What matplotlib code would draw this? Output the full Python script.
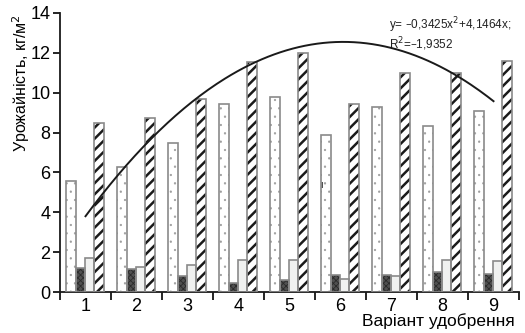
import numpy as np
import matplotlib
matplotlib.use('Agg')
import matplotlib.pyplot as plt

plt.rcParams['font.family'] = ['Liberation Sans', 'DejaVu Sans']

variants = [1, 2, 3, 4, 5, 6, 7, 8, 9]
dotted_vals = [5.55, 6.25, 7.5, 9.45, 9.8, 7.9, 9.3, 8.35, 9.1]
dark_vals = [1.2, 1.15, 0.8, 0.45, 0.58, 0.88, 0.85, 1.0, 0.9]
light_vals = [1.7, 1.25, 1.35, 1.6, 1.62, 0.67, 0.8, 1.6, 1.55]
striped_vals = [8.5, 8.75, 9.7, 11.55, 12.0, 9.45, 11.0, 11.0, 11.6]
trend_a, trend_b = -0.3425, 4.1464

fig = plt.figure(figsize=(5.25, 3.33), dpi=100)
ax = fig.add_axes([0.1143, 0.123, 0.8743, 0.838])

x0 = np.array(variants) - 1
w = 0.185
off = 0.12

def bars(vals, k, face, hatch, hcol, lw=0.5):
    pos = x0 + off + k * w
    # hatch layer (hatch colour comes from edgecolor)
    plt.rcParams['hatch.linewidth'] = lw
    ax.bar(pos, vals, width=w, align='edge', color=face, hatch=hatch,
           edgecolor=hcol, linewidth=0, zorder=2)
    # outline
    ax.bar(pos, vals, width=w, align='edge', fill=False,
           edgecolor='#8a8a8a', linewidth=1.2, zorder=3)

bars(dotted_vals, 0, 'white', '..', '#9a9a9a', 0.4)
bars(dark_vals, 1, '#505050', 'xxxxxx', '#2a2a2a', 0.6)
bars(light_vals, 2, '#f0f1f0', None, '#f0f1f0', 0.5)
bars(striped_vals, 3, 'white', '///', '#1a1a1a', 1.8)

xs = np.linspace(1, 9, 200)
ax.plot(xs - 0.5, trend_a * xs ** 2 + trend_b * xs, color='#1a1a1a',
        linewidth=1.4, zorder=4)

ax.text(6.45, 13.2, 'y= \u20130,3425x$^2$+4,1464x;', fontsize=8.5, color='#222')
ax.text(6.45, 12.2, 'R$^2$=\u20131,9352', fontsize=8.5, color='#222')
ax.text(5.1, 5.2, 'ı', fontsize=7, color='#222')

ax.set_xlim(0, 9)
ax.set_ylim(0, 14)
ax.set_yticks(range(0, 15, 2))
ax.set_xticks(range(0, 10))
ax.set_xticklabels([])
ax.set_xticks(x0 + 0.5, minor=True)
ax.set_xticklabels([str(v) for v in variants], minor=True)
ax.tick_params(axis='x', which='minor', length=0, labelsize=13, pad=4)
ax.tick_params(axis='x', which='major', length=6, width=1.2, direction='out')
ax.tick_params(axis='y', length=5, width=1.2, labelsize=13, pad=2)

for s in ['top', 'right']:
    ax.spines[s].set_visible(False)
for s in ['left', 'bottom']:
    ax.spines[s].set_linewidth(1.3)
    ax.spines[s].set_color('#1a1a1a')

ax.set_ylabel('Урожайність, кг/м$^2$', fontsize=11.5, labelpad=2)
ax.yaxis.set_label_coords(-0.062, 0.75)
fig.text(0.98, 0.012, 'Варіант удобрення', fontsize=12.5, ha='right', va='bottom')

fig.savefig('out.png', dpi=100)
